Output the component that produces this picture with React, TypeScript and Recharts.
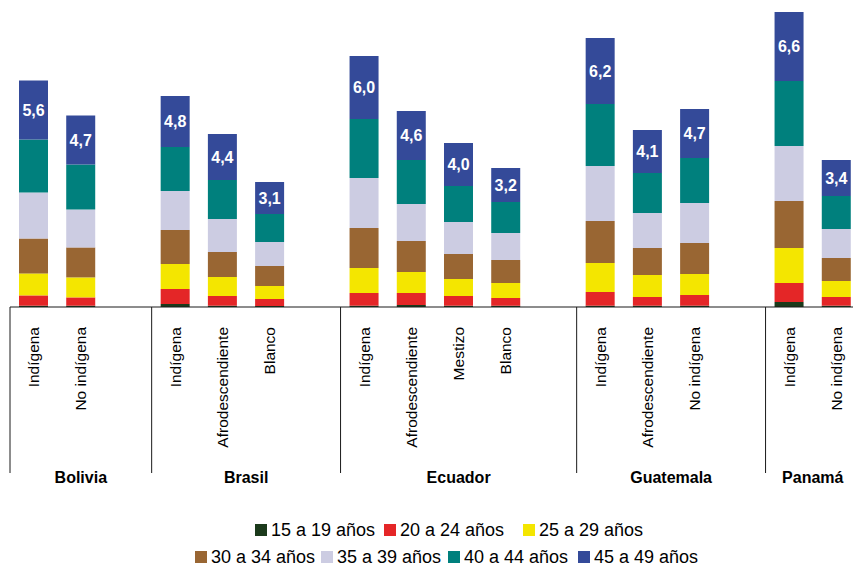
import React from 'react';
import { BarChart, Bar, XAxis, YAxis, LabelList } from 'recharts';

// one entry per bar, left to right
const countries = [
  'Bolivia', 'Bolivia',
  'Brasil', 'Brasil', 'Brasil',
  'Ecuador', 'Ecuador', 'Ecuador', 'Ecuador',
  'Guatemala', 'Guatemala', 'Guatemala',
  'Panamá', 'Panamá',
];
const populations = [
  'Indígena', 'No indígena',
  'Indígena', 'Afrodescendiente', 'Blanco',
  'Indígena', 'Afrodescendiente', 'Mestizo', 'Blanco',
  'Indígena', 'Afrodescendiente', 'No indígena',
  'Indígena', 'No indígena',
];
const totalLabels = ['5,6', '4,7', '4,8', '4,4', '3,1', '6,0', '4,6', '4,0', '3,2', '6,2', '4,1', '4,7', '6,6', '3,4'];

const age15to19 = [1.3, 1.3, 3, 1.3, 1, 1.3, 2, 1.3, 1.3, 1.3, 1.3, 1.3, 5, 1.3];
const age20to24 = [10.3, 8.3, 15, 9.7, 7, 12.7, 12, 9.7, 7.7, 13.7, 8.7, 10.7, 19, 8.7];
const age25to29 = [22, 20, 25, 19, 13, 25, 21, 17, 15, 29, 22, 21, 35, 16];
const age30to34 = [35, 30, 34, 25, 20, 40, 31, 25, 23, 42, 27, 31, 47, 23];
const age35to39 = [46, 38, 39, 33, 24, 50, 37, 32, 27, 55, 35, 40, 55, 29];
const age40to44 = [53, 45, 44, 39, 28, 59, 44, 36, 31, 62, 40, 45, 65, 33];
const age45to49 = [59, 49, 51, 46, 32, 63, 49, 43, 34, 66, 43, 49, 69, 36];

const series = [
  { key: 'a15', name: '15 a 19 años', color: '#1b3a1b', values: age15to19 },
  { key: 'a20', name: '20 a 24 años', color: '#e42627', values: age20to24 },
  { key: 'a25', name: '25 a 29 años', color: '#f4e600', values: age25to29 },
  { key: 'a30', name: '30 a 34 años', color: '#996633', values: age30to34 },
  { key: 'a35', name: '35 a 39 años', color: '#cccce2', values: age35to39 },
  { key: 'a40', name: '40 a 44 años', color: '#00807d', values: age40to44 },
  { key: 'a45', name: '45 a 49 años', color: '#344a99', values: age45to49 },
];

// build rows, with an empty slot after each country group (not after the last)
const rows: any[] = [];
countries.forEach((country, i) => {
  const first = i === 0 || countries[i - 1] !== country;
  const last = i === countries.length - 1 || countries[i + 1] !== country;
  const size = countries.filter(c => c === country).length;
  const isFinalGroup = country === countries[countries.length - 1];
  const row: any = {
    id: `b${i}`,
    country,
    label: populations[i],
    tfr: totalLabels[i],
    groupStart: first,
    groupSlots: size + (isFinalGroup ? 0 : 1),
  };
  series.forEach(s => { row[s.key] = s.values[i]; });
  rows.push(row);
  if (last && !isFinalGroup) {
    rows.push({ id: `gap${i}`, country, label: '', groupStart: false });
  }
});

const PLOT_W = 850;
const SLOT = PLOT_W / rows.length;
const FONT = 'Arial, "Liberation Sans", sans-serif';

const CategoryTick = (props: any) => {
  const { x, y, payload } = props;
  const row = rows.find(r => r.id === payload.value);
  if (!row) return null;
  const left = x - SLOT / 2;
  return (
    <g>
      {row.groupStart && (
        <line x1={left} x2={left} y1={y} y2={y + 166} stroke="#1a1a1a" strokeWidth={1} />
      )}
      {row.groupStart && (
        <text
          x={left + (row.groupSlots * SLOT) / 2}
          y={y + 170}
          textAnchor="middle"
          dominantBaseline="central"
          fontFamily={FONT}
          fontWeight="bold"
          fontSize={16}
          fill="#000"
        >
          {row.country}
        </text>
      )}
      {row.label && (
        <text
          transform={`translate(${x},${y + 20}) rotate(-90)`}
          textAnchor="end"
          dominantBaseline="central"
          fontFamily={FONT}
          fontSize={15.5}
          fill="#000"
        >
          {row.label}
        </text>
      )}
    </g>
  );
};

// legend item placement (left edge of swatch, row)
const legendSpots = [
  { left: 255, top: 523 },
  { left: 384, top: 523 },
  { left: 523, top: 523 },
  { left: 195, top: 550 },
  { left: 321, top: 550 },
  { left: 448, top: 550 },
  { left: 578, top: 550 },
];

export default function App() {
  return (
    <div
      style={{
        position: 'absolute',
        left: 0,
        top: 0,
        width: 853,
        height: 566,
        overflow: 'hidden',
        background: '#fff',
        fontFamily: FONT,
      }}
    >
      <BarChart
        width={870}
        height={500}
        data={rows}
        margin={{ top: 7, right: 10, left: 10, bottom: 0 }}
        barSize={29}
      >
        <XAxis
          dataKey="id"
          height={193}
          interval={0}
          tickSize={0}
          tickMargin={0}
          tickLine={false}
          axisLine={{ stroke: '#1a1a1a', strokeWidth: 1 }}
          tick={<CategoryTick />}
        />
        <YAxis hide domain={[0, 300]} allowDataOverflow />
        {series.map((s, idx) => (
          <Bar
            key={s.key}
            dataKey={s.key}
            name={s.name}
            stackId="tgf"
            fill={s.color}
            isAnimationActive={false}
          >
            {idx === series.length - 1 && (
              <LabelList
                dataKey="tfr"
                position="center"
                fill="#fff"
                fontWeight="bold"
                fontSize={16}
                fontFamily={FONT}
              />
            )}
          </Bar>
        ))}
      </BarChart>
      {series.map((s, i) => (
        <div
          key={s.key}
          style={{
            position: 'absolute',
            left: legendSpots[i].left,
            top: legendSpots[i].top,
            display: 'flex',
            alignItems: 'center',
            height: 14,
            fontSize: 18,
            color: '#000',
            whiteSpace: 'nowrap',
          }}
        >
          <span style={{ width: 12, height: 12, background: s.color, marginRight: 4, display: 'inline-block' }} />
          <span>{s.name}</span>
        </div>
      ))}
    </div>
  );
}
